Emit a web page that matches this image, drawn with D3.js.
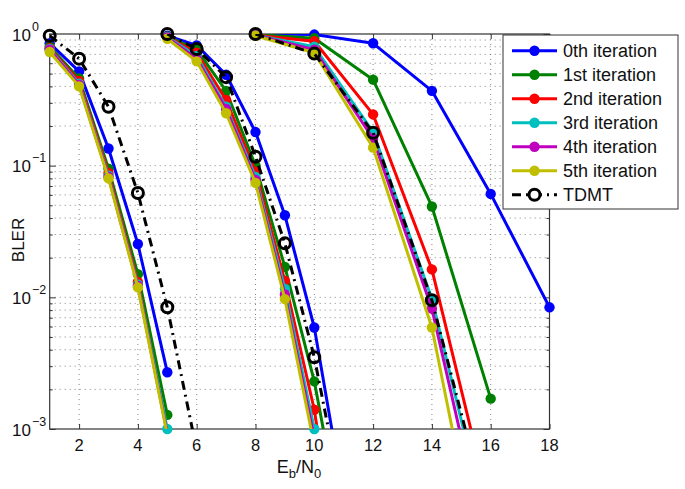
<!DOCTYPE html>
<html><head><meta charset="utf-8">
<script src="https://cdn.jsdelivr.net/npm/d3@7"></script>
<style>body{margin:0;background:#fff}svg{display:block}text{font-family:"Liberation Sans",Arial,Helvetica,sans-serif}</style>
</head><body><div id="chart"></div>
<script>
// ---- data ----
const seriesNames = ["0th iteration","1st iteration","2nd iteration","3rd iteration","4th iteration","5th iteration","TDMT"];
const seriesColors = ["#0000ff","#008000","#ff0000","#00bfbf","#bf00bf","#bfbf00","#000000"];
const xTicks = [2,4,6,8,10,12,14,16,18];
const yTicks = [1e-3,1e-2,1e-1,1];
const yTickExp = ["\u22123","\u22122","\u22121","0"];

// group A
const snrA = [1,2,3,4,5,6];
const A_it0 = [0.85,0.52,0.135,0.0254,0.0027,null];
const A_it1 = [0.80,0.46,0.095,0.0150,0.00128,null];
const A_it2 = [0.78,0.44,0.088,0.0131,0.00095,null];
const A_it3 = [0.77,0.42,0.084,0.0125,0.00100,null];
const A_it4 = [0.76,0.41,0.082,0.0122,0.00093,null];
const A_it5 = [0.73,0.40,0.080,0.0119,0.00090,null];
const A_tdmt = [0.97,0.65,0.28,0.062,0.0084,0.00069];
// group B
const snrB = [5,6,7,8,9,10,11];
const B_it0 = [0.97,0.82,0.49,0.18,0.042,0.0059,0.0003];
const B_it1 = [0.96,0.76,0.37,0.10,0.017,0.0023,0.00015];
const B_it2 = [0.95,0.72,0.315,0.09,0.0133,0.0014,0.00005];
const B_it3 = [0.95,0.68,0.28,0.082,0.0116,0.0010,0.00006];
const B_it4 = [0.94,0.65,0.27,0.078,0.0105,0.00085,null];
const B_it5 = [0.92,0.62,0.25,0.074,0.0097,0.00075,null];
const B_tdmt = [1.0,0.77,0.47,0.117,0.0257,0.0035,0.00026];
// group C
const snrC = [8,10,12,14,16,18];
const C_it0 = [1.0,0.99,0.85,0.37,0.061,0.0084];
const C_it1 = [0.99,0.93,0.45,0.049,0.0017,null];
const C_it2 = [0.98,0.88,0.245,0.0163,0.00024,null];
const C_it3 = [0.98,0.80,0.18,0.0097,0.00014,null];
const C_it4 = [0.98,0.76,0.16,0.0082,0.00009,null];
const C_it5 = [0.97,0.72,0.137,0.0059,0.000035,null];
const C_tdmt = [1.0,0.71,0.178,0.0095,0.00018,null];

const groups = [
  {x: snrA, ys: [A_it0,A_it1,A_it2,A_it3,A_it4,A_it5,A_tdmt]},
  {x: snrB, ys: [B_it0,B_it1,B_it2,B_it3,B_it4,B_it5,B_tdmt]},
  {x: snrC, ys: [C_it0,C_it1,C_it2,C_it3,C_it4,C_it5,C_tdmt]}
];

// ---- layout ----
const W = 685, H = 489;
const L = 49.7, R = 549.5, T = 34, B = 429;
const x = d3.scaleLinear().domain([1,18]).range([L,R]);
const y = d3.scaleLog().domain([1e-3,1]).range([B,T]);

const svg = d3.select("#chart").append("svg").attr("width",W).attr("height",H);

// grid
const minorY = [];
for (let e=-3;e<0;e++) for (let m=1;m<=9;m++) minorY.push(m*Math.pow(10,e));
minorY.push(1);
const grid = svg.append("g").attr("stroke","#666").attr("stroke-width",0.8).attr("stroke-dasharray","1,4");
grid.selectAll("line.gy").data(minorY.filter(v=>v>1e-3 && v<1)).enter().append("line")
  .attr("x1",L).attr("x2",R).attr("y1",d=>y(d)).attr("y2",d=>y(d));
grid.selectAll("line.gx").data(xTicks.filter(v=>v<18)).enter().append("line")
  .attr("x1",d=>x(d)).attr("x2",d=>x(d)).attr("y1",T).attr("y2",B);

// axes ticks (inward) via d3 axes
const axB = d3.axisBottom(x).tickValues(xTicks).tickSize(-5).tickFormat("");
const axT = d3.axisTop(x).tickValues(xTicks).tickSize(-5).tickFormat("");
const majorY = yTicks;
const minorOnly = minorY.filter(v=>!majorY.some(m=>Math.abs(m-v)<1e-12));
const axL = d3.axisLeft(y).tickValues(majorY).tickSize(-6).tickFormat("");
const axLm = d3.axisLeft(y).tickValues(minorOnly).tickSize(-3).tickFormat("");
const axR = d3.axisRight(y).tickValues(majorY).tickSize(-6).tickFormat("");
const axRm = d3.axisRight(y).tickValues(minorOnly).tickSize(-3).tickFormat("");
[[axB,`translate(0,${B})`],[axT,`translate(0,${T})`],[axL,`translate(${L},0)`],[axLm,`translate(${L},0)`],[axR,`translate(${R},0)`],[axRm,`translate(${R},0)`]].forEach(([a,t])=>{
  const g = svg.append("g").attr("transform",t).call(a);
  g.select(".domain").remove();
  g.selectAll("line").attr("stroke","#333").attr("stroke-width",1);
});
svg.append("rect").attr("x",L).attr("y",T).attr("width",R-L).attr("height",B-T)
  .attr("fill","none").attr("stroke","#333").attr("stroke-width",1.2);

// tick labels
svg.append("g").selectAll("text").data(xTicks).enter().append("text")
  .attr("x",d=>x(d)).attr("y",451).attr("text-anchor","middle").attr("font-size",16.5).attr("fill","#111").text(d=>d);
const yl = svg.append("g").selectAll("text").data(yTicks).enter().append("text")
  .attr("x",12).attr("y",d=>y(d)+6.5).attr("font-size",17).attr("fill","#111");
yl.append("tspan").text("10");
yl.append("tspan").attr("font-size",12.5).attr("dy",-10).attr("dx",1).text((d,i)=>yTickExp[i]);

// axis titles
svg.append("text").attr("transform","translate(24,240) rotate(-90)").attr("text-anchor","middle")
  .attr("font-size",17).attr("fill","#111").text("BLER");
const xt = svg.append("text").attr("x",299).attr("y",473).attr("text-anchor","middle").attr("font-size",18).attr("fill","#111");
xt.append("tspan").text("E");
xt.append("tspan").attr("font-size",13).attr("dy",5).text("b");
xt.append("tspan").attr("dy",-5).text("/N");
xt.append("tspan").attr("font-size",13).attr("dy",5).text("0");

// clip
svg.append("clipPath").attr("id","clip").append("rect").attr("x",L).attr("y",T).attr("width",R-L).attr("height",B-T);

const line = d3.line().defined(d=>d[1]!=null).x(d=>x(d[0])).y(d=>y(d[1]));
const plot = svg.append("g");
seriesNames.forEach((name,si)=>{
  const col = seriesColors[si];
  const isT = si===6;
  groups.forEach(g=>{
    const pts = g.x.map((xv,i)=>[xv,g.ys[si][i]]);
    plot.append("path").attr("d",line(pts)).attr("clip-path","url(#clip)")
      .attr("fill","none").attr("stroke",col).attr("stroke-width",3)
      .attr("stroke-dasharray",isT?"9,5,2,5":null).attr("stroke-linejoin","round");
    plot.append("g").selectAll("circle").data(pts.filter(p=>p[1]!=null && p[1]>=1e-3*0.999)).enter().append("circle")
      .attr("cx",p=>x(p[0])).attr("cy",p=>y(p[1])).attr("r",isT?5.5:5.2)
      .attr("fill",isT?"none":col).attr("stroke",col).attr("stroke-width",isT?3:0);
  });
});

// legend
const lg = svg.append("g");
lg.append("rect").attr("x",503).attr("y",35).attr("width",175).attr("height",174)
  .attr("fill","#fff").attr("stroke","#333").attr("stroke-width",1);
seriesNames.forEach((name,i)=>{
  const yy = 50.7 + i*24;
  const isT = i===6;
  lg.append("line").attr("x1",512).attr("x2",557).attr("y1",yy).attr("y2",yy)
    .attr("stroke",seriesColors[i]).attr("stroke-width",3).attr("stroke-dasharray",isT?"9,5,2,5":null);
  lg.append("circle").attr("cx",534.5).attr("cy",yy).attr("r",isT?5.5:5.2)
    .attr("fill",isT?"#fff":seriesColors[i]).attr("stroke",seriesColors[i]).attr("stroke-width",isT?3:0);
  lg.append("text").attr("x",563).attr("y",yy+6.5).attr("font-size",18).attr("fill","#111").text(name);
});
</script></body></html>
